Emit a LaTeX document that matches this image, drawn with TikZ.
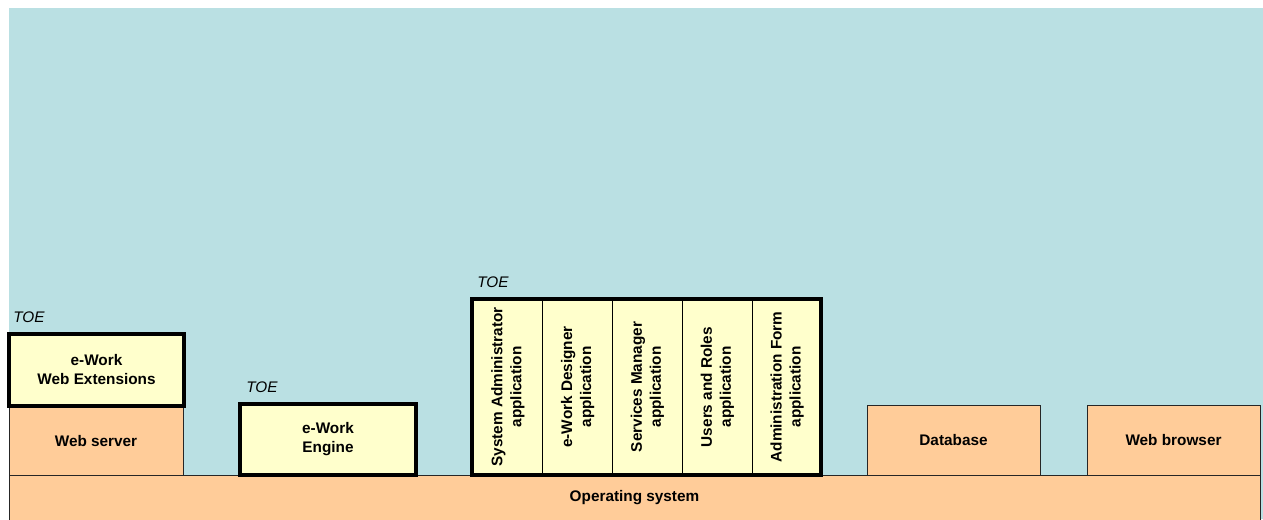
\documentclass[tikz,border=0pt]{standalone}
\usepackage{fontspec}
\setmainfont{Liberation Sans}
\usepackage{tikz}

\definecolor{skyback}{HTML}{BAE0E3}
\definecolor{layerorange}{HTML}{FFCC99}
\definecolor{toeyellow}{HTML}{FFFFCC}

\newcommand{\lblfont}{\fontsize{11.5}{14.25}\selectfont}

\begin{document}
\begin{tikzpicture}[
    x=0.75pt, y=-0.75pt,
    line join=miter,
    layer/.style={draw=black!85, line width=0.7pt, fill=layerorange, font=\lblfont\bfseries, align=center, inner sep=0pt},
    toebox/.style={draw=black, line width=3pt, fill=toeyellow, font=\lblfont\bfseries, align=center, inner sep=0pt},
    appcol/.style={draw=black, line width=0.7pt, fill=toeyellow, font=\lblfont\bfseries, align=center, inner sep=0pt, rotate=90, minimum width=132pt, minimum height=52.35pt},
    toetag/.style={font=\lblfont\itshape, anchor=base west, inner sep=0pt}
]

\useasboundingbox (0,0) rectangle (1263,519);

% backdrop
\fill[skyback] (9,8) rectangle (1263,519);

% platform layer
\node[layer, minimum width=938.25pt, minimum height=33.75pt] (os) at (634.5,497.5) {Operating system};

% third-party components
\node[layer, minimum width=130.5pt, minimum height=51pt] (webserver) at (96,441) {Web server};
\node[layer, minimum width=129.75pt, minimum height=52.5pt] (database) at (953.5,440) {Database};
\node[layer, minimum width=129.75pt, minimum height=52.5pt] (browser) at (1173.5,440) {Web browser};

% TOE parts
\node[toebox, minimum width=131.25pt, minimum height=54pt] (extensions) at (96.5,370) {e-Work\\Web Extensions};
\node[toetag] (toeext) at (13,322) {TOE};

\node[toebox, minimum width=132pt, minimum height=53.25pt] (engine) at (328,439.5) {e-Work\\Engine};
\node[toetag] (toeengine) at (246,392) {TOE};

\def\colstep{69.8}
\foreach \name/\txt [count=\i from 0] in {sysadmin/System Administrator,
                                          designer/e-Work Designer,
                                          services/Services Manager,
                                          roles/Users and Roles,
                                          adminform/Administration Form}
    \node[appcol] (\name) at ({507.9+\colstep*\i},387) {\txt\\application};

\node[toebox, fill=none, minimum width=261.75pt, minimum height=132pt] (apps) at (646.5,387) {};
\node[toetag] (toeapps) at (477,287) {TOE};

\end{tikzpicture}
\end{document}
